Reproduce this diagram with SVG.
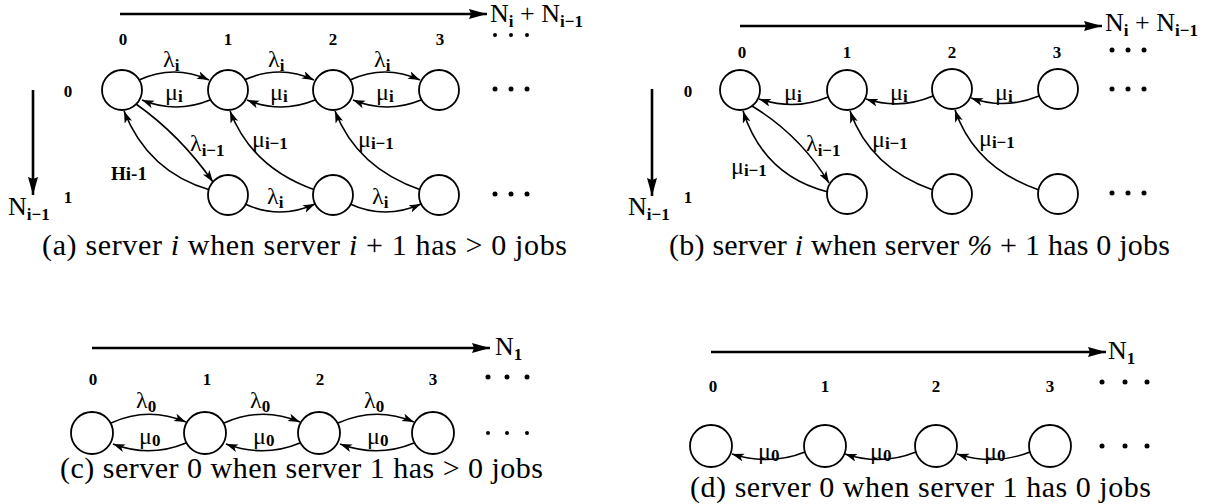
<svg xmlns="http://www.w3.org/2000/svg" width="1215" height="504" viewBox="0 0 1215 504">
<style>
.st{fill:#fff;stroke:#000;stroke-width:1.8}
.e{fill:none;stroke:#000;stroke-width:1.6;marker-end:url(#ah)}
.ax{fill:none;stroke:#000;stroke-width:2.6;marker-end:url(#big)}
.lb{font-family:"Liberation Serif","DejaVu Serif",serif;font-size:24px;fill:#000}
.axl{font-family:"Liberation Serif","DejaVu Serif",serif;font-size:26px;fill:#000}
.sb{font-size:17px;font-weight:bold}
.num{font-family:"Liberation Serif","DejaVu Serif",serif;font-size:17px;font-weight:bold;fill:#000;text-anchor:middle}
.cap{font-family:"Liberation Serif","DejaVu Serif",serif;font-size:30px;fill:#000}
.hl{font-family:"Liberation Serif","DejaVu Serif",serif;font-size:19px;font-weight:bold;fill:#000}
.dot{fill:#000}
</style>
<defs>
<marker id="ah" markerUnits="userSpaceOnUse" markerWidth="14" markerHeight="10" refX="12" refY="4" orient="auto">
<path d="M0,0 L12,4 L0,8 L3,4 z" fill="#000"/>
</marker>
<marker id="big" markerUnits="userSpaceOnUse" markerWidth="20" markerHeight="12" refX="18" refY="5" orient="auto">
<path d="M0,0 L18,5 L0,10 L2,5 z" fill="#000"/>
</marker>
</defs>

<!-- ===== Panel (a) ===== -->
<g id="a-axes">
<line class="ax" x1="120" y1="14" x2="487" y2="14"/>
<text class="axl" x="490" y="22">N<tspan class="sb" dy="5">i</tspan><tspan dy="-5"> + N</tspan><tspan class="sb" dy="5">i−1</tspan></text>
<line class="ax" x1="33" y1="90" x2="33" y2="195"/>
<text class="axl" x="8" y="215">N<tspan class="sb" dy="5">i−1</tspan></text>
<text class="num" x="123" y="45">0</text><text class="num" x="228" y="45">1</text><text class="num" x="333" y="45">2</text><text class="num" x="440" y="45">3</text>
<text class="num" x="68" y="97">0</text><text class="num" x="68" y="203">1</text>
<circle class="dot" cx="495" cy="35" r="2"/><circle class="dot" cx="511" cy="35" r="2"/><circle class="dot" cx="527" cy="35" r="2"/>
<circle class="dot" cx="495" cy="89" r="2.5"/><circle class="dot" cx="511" cy="89" r="2.5"/><circle class="dot" cx="527" cy="89" r="2.5"/>
<circle class="dot" cx="495" cy="194" r="2.5"/><circle class="dot" cx="511" cy="194" r="2.5"/><circle class="dot" cx="527" cy="194" r="2.5"/>
</g>
<g id="a-connectors">
<path class="e" d="M139,80 Q174,64 209,80"/>
<path class="e" d="M244,80 Q280,64 314,80"/>
<path class="e" d="M350,80 Q385,64 420,80"/>
<path class="e" d="M210,100 Q176,114 142,100"/>
<path class="e" d="M315,100 Q281,114 247,100"/>
<path class="e" d="M421,100 Q387,114 353,100"/>
<path class="e" d="M136,104 Q180,135 213,182"/>
<path class="e" d="M210,190 Q148,172 124,111"/>
<path class="e" d="M315,190 Q252,168 230,111"/>
<path class="e" d="M421,190 Q357,168 335,111"/>
<path class="e" d="M245,204 Q280,220 315,204"/>
<path class="e" d="M350,204 Q385,220 421,204"/>
<text class="lb" x="163" y="67">λ<tspan class="sb" dy="4">i</tspan></text>
<text class="lb" x="268" y="67">λ<tspan class="sb" dy="4">i</tspan></text>
<text class="lb" x="374" y="67">λ<tspan class="sb" dy="4">i</tspan></text>
<text class="lb" x="165" y="100">μ<tspan class="sb" dy="2">i</tspan></text>
<text class="lb" x="270" y="100">μ<tspan class="sb" dy="2">i</tspan></text>
<text class="lb" x="376" y="100">μ<tspan class="sb" dy="2">i</tspan></text>
<text class="lb" x="190" y="151">λ<tspan class="sb" dy="5">i−1</tspan></text>
<text class="hl" x="111" y="180">Hi-1</text>
<text class="lb" x="252" y="147">μ<tspan class="sb" dy="2">i−1</tspan></text>
<text class="lb" x="358" y="147">μ<tspan class="sb" dy="2">i−1</tspan></text>
<text class="lb" x="267" y="204">λ<tspan class="sb" dy="4">i</tspan></text>
<text class="lb" x="372" y="204">λ<tspan class="sb" dy="4">i</tspan></text>
</g>
<g id="a-n00"><circle class="st" cx="122" cy="90" r="20"/></g>
<g id="a-n10"><circle class="st" cx="228" cy="90" r="20"/></g>
<g id="a-n20"><circle class="st" cx="333" cy="90" r="20"/></g>
<g id="a-n30"><circle class="st" cx="439" cy="90" r="20"/></g>
<g id="a-n11"><circle class="st" cx="228" cy="195" r="20"/></g>
<g id="a-n21"><circle class="st" cx="333" cy="195" r="20"/></g>
<g id="a-n31"><circle class="st" cx="439" cy="195" r="20"/></g>
<text class="cap" x="42" y="255" textLength="525" lengthAdjust="spacing">(a)  server <tspan font-style="italic">i</tspan> when server <tspan font-style="italic">i</tspan> + 1  has &gt; 0 jobs</text>

<!-- ===== Panel (b) ===== -->
<g id="b-axes">
<line class="ax" x1="740" y1="26" x2="1102" y2="26"/>
<text class="axl" x="1105" y="31">N<tspan class="sb" dy="5">i</tspan><tspan dy="-5"> + N</tspan><tspan class="sb" dy="5">i−1</tspan></text>
<line class="ax" x1="652" y1="89" x2="652" y2="196"/>
<text class="axl" x="628" y="215">N<tspan class="sb" dy="5">i−1</tspan></text>
<text class="num" x="742" y="58">0</text><text class="num" x="847" y="58">1</text><text class="num" x="952" y="58">2</text><text class="num" x="1057" y="58">3</text>
<text class="num" x="688" y="97">0</text><text class="num" x="688" y="203">1</text>
<circle class="dot" cx="1112" cy="50" r="2.5"/><circle class="dot" cx="1128" cy="50" r="2.5"/><circle class="dot" cx="1144" cy="50" r="2.5"/>
<circle class="dot" cx="1112" cy="89" r="2.5"/><circle class="dot" cx="1128" cy="89" r="2.5"/><circle class="dot" cx="1144" cy="89" r="2.5"/>
<circle class="dot" cx="1112" cy="193" r="2.5"/><circle class="dot" cx="1128" cy="193" r="2.5"/><circle class="dot" cx="1144" cy="193" r="2.5"/>
</g>
<g id="b-connectors">
<path class="e" d="M828,97 Q795,111 759,99"/>
<path class="e" d="M933,96 Q900,110 866,99"/>
<path class="e" d="M1039,96 Q1005,110 971,98"/>
<path class="e" d="M752,106 Q800,135 829,183"/>
<path class="e" d="M828,192 Q764,176 743,111"/>
<path class="e" d="M933,190 Q870,168 850,111"/>
<path class="e" d="M1039,190 Q975,168 955,110"/>
<text class="lb" x="784" y="100">μ<tspan class="sb" dy="2">i</tspan></text>
<text class="lb" x="890" y="100">μ<tspan class="sb" dy="2">i</tspan></text>
<text class="lb" x="995" y="100">μ<tspan class="sb" dy="2">i</tspan></text>
<text class="lb" x="806" y="151">λ<tspan class="sb" dy="5">i−1</tspan></text>
<text class="lb" x="731" y="174">μ<tspan class="sb" dy="2">i−1</tspan></text>
<text class="lb" x="872" y="147">μ<tspan class="sb" dy="2">i−1</tspan></text>
<text class="lb" x="979" y="146">μ<tspan class="sb" dy="2">i−1</tspan></text>
</g>
<g id="b-n00"><circle class="st" cx="740" cy="90" r="20"/></g>
<g id="b-n10"><circle class="st" cx="847" cy="90" r="20"/></g>
<g id="b-n20"><circle class="st" cx="952" cy="89" r="20"/></g>
<g id="b-n30"><circle class="st" cx="1058" cy="89" r="20"/></g>
<g id="b-n11"><circle class="st" cx="847" cy="194" r="20"/></g>
<g id="b-n21"><circle class="st" cx="952" cy="194" r="20"/></g>
<g id="b-n31"><circle class="st" cx="1058" cy="194" r="20"/></g>
<text class="cap" x="669" y="255" textLength="501" lengthAdjust="spacing">(b)  server <tspan font-style="italic">i</tspan> when server <tspan font-style="italic">%</tspan> + 1 has 0 jobs</text>

<!-- ===== Panel (c) ===== -->
<g id="c-axes">
<line class="ax" x1="92" y1="348" x2="490" y2="348"/>
<text class="axl" x="495" y="355">N<tspan class="sb" dy="5">1</tspan></text>
<text class="num" x="93" y="385">0</text><text class="num" x="207" y="385">1</text><text class="num" x="320" y="385">2</text><text class="num" x="433" y="385">3</text>
<circle class="dot" cx="488" cy="377" r="2.5"/><circle class="dot" cx="507" cy="377" r="2.5"/><circle class="dot" cx="527" cy="377" r="2.5"/>
<circle class="dot" cx="488" cy="433" r="2"/><circle class="dot" cx="507" cy="433" r="2"/><circle class="dot" cx="527" cy="433" r="2"/>
</g>
<g id="c-connectors">
<path class="e" d="M111,423 Q148,406 186,422"/>
<path class="e" d="M224,423 Q262,406 300,422"/>
<path class="e" d="M338,423 Q376,406 414,422"/>
<path class="e" d="M186,443 Q150,458 113,444"/>
<path class="e" d="M300,443 Q264,458 226,444"/>
<path class="e" d="M414,443 Q378,458 340,444"/>
<text class="lb" x="136" y="408">λ<tspan class="sb" dy="4">0</tspan></text>
<text class="lb" x="250" y="408">λ<tspan class="sb" dy="4">0</tspan></text>
<text class="lb" x="364" y="408">λ<tspan class="sb" dy="4">0</tspan></text>
<text class="lb" x="139" y="444">μ<tspan class="sb" dy="2">0</tspan></text>
<text class="lb" x="253" y="444">μ<tspan class="sb" dy="2">0</tspan></text>
<text class="lb" x="367" y="444">μ<tspan class="sb" dy="2">0</tspan></text>
</g>
<g id="c-n0"><circle class="st" cx="92" cy="433" r="21"/></g>
<g id="c-n1"><circle class="st" cx="205" cy="433" r="21"/></g>
<g id="c-n2"><circle class="st" cx="319" cy="433" r="21"/></g>
<g id="c-n3"><circle class="st" cx="433" cy="433" r="21"/></g>
<text class="cap" x="60" y="478" textLength="483" lengthAdjust="spacing">(c)  server 0 when server 1 has &gt; 0 jobs</text>

<!-- ===== Panel (d) ===== -->
<g id="d-axes">
<line class="ax" x1="711" y1="352" x2="1106" y2="352"/>
<text class="axl" x="1108" y="359">N<tspan class="sb" dy="5">1</tspan></text>
<text class="num" x="713" y="392">0</text><text class="num" x="825" y="392">1</text><text class="num" x="936" y="392">2</text><text class="num" x="1050" y="392">3</text>
<circle class="dot" cx="1102" cy="382" r="2.5"/><circle class="dot" cx="1125" cy="382" r="2.5"/><circle class="dot" cx="1147" cy="382" r="2.5"/>
<circle class="dot" cx="1102" cy="446" r="2.5"/><circle class="dot" cx="1125" cy="446" r="2.5"/><circle class="dot" cx="1147" cy="446" r="2.5"/>
</g>
<g id="d-connectors">
<path class="e" d="M805,452 Q770,466 732,454"/>
<path class="e" d="M916,452 Q881,466 845,454"/>
<path class="e" d="M1030,452 Q995,466 957,454"/>
<text class="lb" x="758" y="459">μ<tspan class="sb" dy="2">0</tspan></text>
<text class="lb" x="870" y="459">μ<tspan class="sb" dy="2">0</tspan></text>
<text class="lb" x="984" y="459">μ<tspan class="sb" dy="2">0</tspan></text>
</g>
<g id="d-n0"><circle class="st" cx="711" cy="446" r="21"/></g>
<g id="d-n1"><circle class="st" cx="825" cy="446" r="21"/></g>
<g id="d-n2"><circle class="st" cx="936" cy="446" r="21"/></g>
<g id="d-n3"><circle class="st" cx="1050" cy="446" r="21"/></g>
<text class="cap" x="690" y="497" textLength="461" lengthAdjust="spacing">(d)  server 0 when server 1 has 0 jobs</text>
</svg>
